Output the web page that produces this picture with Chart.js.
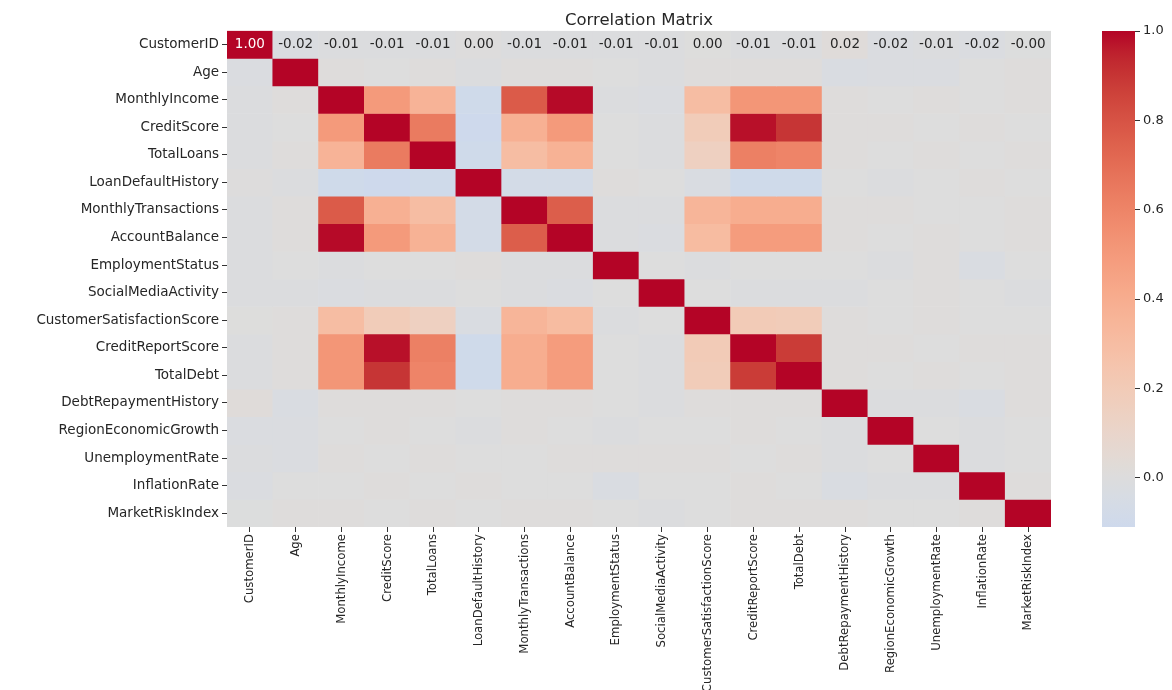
<!DOCTYPE html>
<html>
<head>
<meta charset="utf-8">
<title>Correlation Matrix</title>
<script src="https://cdn.jsdelivr.net/npm/chart.js@4.4.1/dist/chart.umd.min.js"></script>
<style>
  html, body { margin: 0; padding: 0; background: #ffffff; }
  #wrap { position: relative; width: 1172px; height: 690px; overflow: hidden; }
  #heat { position: absolute; left: 0; top: 0; }
  #bar { position: absolute; left: 1090px; top: 0; }
</style>
</head>
<body>
<div id="wrap">
  <canvas id="heat" width="1172" height="690"></canvas>
  <canvas id="bar" width="82" height="690"></canvas>
</div>
<script>
// Feature names (rows and columns of the matrix)
const variables = [
  'CustomerID', 'Age', 'MonthlyIncome', 'CreditScore', 'TotalLoans',
  'LoanDefaultHistory', 'MonthlyTransactions', 'AccountBalance',
  'EmploymentStatus', 'SocialMediaActivity', 'CustomerSatisfactionScore',
  'CreditReportScore', 'TotalDebt', 'DebtRepaymentHistory',
  'RegionEconomicGrowth', 'UnemploymentRate', 'InflationRate', 'MarketRiskIndex'
];

// Pairwise correlation coefficients, one row per feature
const corrRows = [
  [1.00, -0.02, -0.01, -0.01, -0.01, 0.003, -0.01, -0.01, -0.01, -0.01, 0.002, -0.01, -0.01, 0.02, -0.02, -0.01, -0.02, -0.004],
  [-0.02, 1.00, 0.01, 0.00, 0.01, -0.01, 0.01, 0.01, 0.00, -0.01, 0.01, 0.01, 0.01, -0.03, -0.02, -0.02, 0.00, 0.01],
  [-0.01, 0.01, 1.00, 0.50, 0.36, -0.10, 0.77, 0.99, -0.01, -0.02, 0.30, 0.52, 0.52, 0.01, 0.00, 0.01, 0.00, 0.01],
  [-0.01, 0.00, 0.50, 1.00, 0.64, -0.11, 0.38, 0.50, 0.00, -0.01, 0.19, 0.98, 0.90, 0.01, 0.01, 0.00, 0.01, 0.00],
  [-0.01, 0.01, 0.36, 0.64, 1.00, -0.10, 0.30, 0.37, 0.00, -0.01, 0.15, 0.62, 0.60, 0.01, 0.00, 0.01, 0.00, 0.01],
  [0.003, -0.01, -0.10, -0.11, -0.10, 1.00, -0.07, -0.07, 0.01, 0.00, -0.03, -0.10, -0.10, 0.00, -0.01, 0.00, 0.01, 0.00],
  [-0.01, 0.01, 0.77, 0.38, 0.30, -0.07, 1.00, 0.76, -0.01, -0.01, 0.35, 0.40, 0.40, 0.01, 0.01, 0.00, 0.00, 0.01],
  [-0.01, 0.01, 0.99, 0.50, 0.37, -0.07, 0.76, 1.00, -0.01, -0.02, 0.31, 0.49, 0.49, 0.01, 0.00, 0.01, 0.00, 0.01],
  [-0.01, 0.00, -0.01, 0.00, 0.00, 0.01, -0.01, -0.01, 1.00, 0.00, -0.01, 0.00, 0.00, 0.00, -0.01, 0.01, -0.03, 0.00],
  [-0.01, -0.01, -0.02, -0.01, -0.01, 0.00, -0.01, -0.02, 0.00, 1.00, 0.00, -0.01, -0.01, -0.01, 0.00, 0.01, 0.00, -0.01],
  [0.002, 0.01, 0.30, 0.19, 0.15, -0.03, 0.35, 0.31, -0.01, 0.00, 1.00, 0.20, 0.19, 0.01, 0.00, 0.01, 0.00, 0.00],
  [-0.01, 0.01, 0.52, 0.98, 0.62, -0.10, 0.40, 0.49, 0.00, -0.01, 0.20, 1.00, 0.88, 0.01, 0.01, 0.00, 0.01, 0.01],
  [-0.01, 0.01, 0.52, 0.90, 0.60, -0.10, 0.40, 0.49, 0.00, -0.01, 0.19, 0.88, 1.00, 0.01, 0.00, 0.01, 0.00, 0.01],
  [0.02, -0.03, 0.01, 0.01, 0.01, 0.00, 0.01, 0.01, 0.00, -0.01, 0.01, 0.01, 0.01, 1.00, -0.01, -0.01, -0.03, 0.01],
  [-0.02, -0.02, 0.00, 0.01, 0.00, -0.01, 0.01, 0.00, -0.01, 0.00, 0.00, 0.01, 0.00, -0.01, 1.00, 0.00, -0.01, 0.00],
  [-0.01, -0.02, 0.01, 0.00, 0.01, 0.00, 0.00, 0.01, 0.01, 0.01, 0.01, 0.00, 0.01, -0.01, 0.00, 1.00, -0.01, 0.00],
  [-0.02, 0.00, 0.00, 0.01, 0.00, 0.01, 0.00, 0.00, -0.03, 0.00, 0.00, 0.01, 0.00, -0.03, -0.01, -0.01, 1.00, 0.01],
  [-0.004, 0.01, 0.01, 0.00, 0.01, 0.00, 0.01, 0.01, 0.00, -0.01, 0.00, 0.01, 0.01, 0.01, 0.00, 0.00, 0.01, 1.00]
];

// Rows whose cells carry a printed value
const annotatedRows = [0];

// Colour bar tick values
const colorbarTicks = [0.0, 0.2, 0.4, 0.6, 0.8, 1.0];

// Diverging "coolwarm" colour map, sampled at 33 evenly spaced stops
const COOLWARM = [
  [0.2298057, 0.298717966, 0.753683153], [0.26623388, 0.353094838, 0.801466763],
  [0.30386891, 0.406535296, 0.84495867], [0.342804478, 0.458757618, 0.883725899],
  [0.38301334, 0.50941904, 0.917387822], [0.424369608, 0.558148092, 0.945619588],
  [0.46666708, 0.604562568, 0.968154911], [0.509635204, 0.648280772, 0.98478814],
  [0.552953156, 0.688929332, 0.995375608], [0.596262162, 0.726149107, 0.999836203],
  [0.639176211, 0.759599947, 0.998151185], [0.681291281, 0.788964712, 0.990363227],
  [0.722193294, 0.813952739, 0.976574709], [0.761464949, 0.834302879, 0.956945269],
  [0.798691636, 0.849786142, 0.931688648], [0.833466556, 0.860207984, 0.901068838],
  [0.865395197, 0.86541021, 0.865395561], [0.897787179, 0.848937047, 0.820880546],
  [0.924127593, 0.827384882, 0.774508472], [0.944468518, 0.800927443, 0.726736146],
  [0.958852946, 0.769767752, 0.678007945], [0.96732803, 0.734132809, 0.628751763],
  [0.969954137, 0.694266682, 0.579375448], [0.966811177, 0.650421156, 0.530263762],
  [0.958003065, 0.602842431, 0.481775914], [0.943660866, 0.551750968, 0.434243684],
  [0.923944917, 0.49730856, 0.387970225], [0.89904617, 0.439559467, 0.343229596],
  [0.869186849, 0.378313092, 0.300267182], [0.834620542, 0.312874446, 0.259301199],
  [0.795631745, 0.24128379, 0.220525627], [0.752534934, 0.157246067, 0.184115123],
  [0.705673158, 0.01555616, 0.150232812]
];

// Colour scale is centred on zero, so the map spans [-1, 1]
function coolwarmRGB(v) {
  let t = (v + 1) / 2;
  t = Math.max(0, Math.min(1, t));
  const pos = t * (COOLWARM.length - 1);
  const i = Math.min(Math.floor(pos), COOLWARM.length - 2);
  const f = pos - i;
  const a = COOLWARM[i], b = COOLWARM[i + 1];
  return [0, 1, 2].map(k => Math.round((a[k] + (b[k] - a[k]) * f) * 255));
}
function coolwarm(v) {
  const c = coolwarmRGB(v);
  return `rgb(${c[0]},${c[1]},${c[2]})`;
}

const FONT = "'DejaVu Sans', 'Liberation Sans', sans-serif";
const TEXT = '#262626';
const vmin = Math.min(...corrRows.flat());
const vmax = Math.max(...corrRows.flat());

// One floating-bar dataset per matrix row; each bar covers [row, row + 1]
const datasets = corrRows.map((row, r) => ({
  label: variables[r],
  data: row.map(() => [r, r + 1]),
  backgroundColor: row.map(coolwarm),
  borderWidth: 0,
  borderSkipped: false,
  grouped: false,
  barPercentage: 1,
  categoryPercentage: 1
}));

// Writes the value inside annotated cells
const cellText = {
  id: 'cellText',
  afterDatasetsDraw(chart) {
    const { ctx, scales: { x, y } } = chart;
    ctx.save();
    ctx.font = `13.5px ${FONT}`;
    ctx.textAlign = 'center';
    ctx.textBaseline = 'middle';
    annotatedRows.forEach(r => {
      corrRows[r].forEach((v, c) => {
        const [cr, cg, cb] = coolwarmRGB(v);
        const lum = (0.2126 * cr + 0.7152 * cg + 0.0722 * cb) / 255;
        ctx.fillStyle = lum < 0.408 ? '#ffffff' : TEXT;
        ctx.fillText(v.toFixed(2), x.getPixelForValue(c), y.getPixelForValue(r + 0.5));
      });
    });
    ctx.restore();
  }
};

new Chart(document.getElementById('heat'), {
  type: 'bar',
  data: { labels: variables, datasets },
  plugins: [cellText],
  options: {
    responsive: false,
    animation: false,
    events: [],
    layout: { padding: { left: 0, right: 121, top: 0, bottom: 0 } },
    plugins: {
      legend: { display: false },
      tooltip: { enabled: false },
      title: {
        display: true,
        text: 'Correlation Matrix',
        fullSize: false,
        color: TEXT,
        font: { family: FONT, size: 16.5, weight: 'normal' },
        padding: { top: 11, bottom: 0 }
      }
    },
    scales: {
      x: {
        type: 'category',
        offset: true,
        border: { display: false },
        grid: { display: true, offset: false, drawOnChartArea: false, drawTicks: true, tickLength: 5, tickColor: '#333333' },
        ticks: {
          autoSkip: false, minRotation: 90, maxRotation: 90, padding: 2,
          color: TEXT,
          font: { family: "'DejaVu Sans Condensed', 'Liberation Sans Narrow', 'DejaVu Sans', sans-serif", size: 13 }
        },
        afterFit(scale) { scale.height = 163; }
      },
      y: {
        type: 'linear',
        min: 0,
        max: variables.length,
        reverse: true,
        border: { display: false },
        grid: { display: true, drawOnChartArea: false, drawTicks: true, tickLength: 5, tickColor: '#333333' },
        afterBuildTicks(scale) {
          scale.ticks = variables.map((_, i) => ({ value: i + 0.5 }));
        },
        ticks: {
          padding: 3,
          color: TEXT,
          font: { family: FONT, size: 13.5 },
          callback: (value, index) => variables[index]
        },
        afterFit(scale) { scale.width = 227; }
      }
    }
  }
});

// Colour bar: one floating bar spanning the data range, filled with the colour map
function colorbarFill(context) {
  const chart = context.chart;
  if (!chart.chartArea) return coolwarm(0);
  const ys = chart.scales.y;
  const y0 = ys.getPixelForValue(vmin);
  const y1 = ys.getPixelForValue(vmax);
  const g = chart.ctx.createLinearGradient(0, y0, 0, y1);
  const steps = 48;
  for (let i = 0; i <= steps; i++) {
    const v = vmin + (vmax - vmin) * i / steps;
    g.addColorStop(i / steps, coolwarm(v));
  }
  return g;
}

new Chart(document.getElementById('bar'), {
  type: 'bar',
  data: {
    labels: [''],
    datasets: [{
      data: [[vmin, vmax]],
      backgroundColor: colorbarFill,
      borderWidth: 0,
      borderSkipped: false,
      barPercentage: 1,
      categoryPercentage: 1
    }]
  },
  options: {
    responsive: false,
    animation: false,
    events: [],
    layout: { padding: { left: 12, right: 0, top: 31, bottom: 163 } },
    plugins: { legend: { display: false }, tooltip: { enabled: false } },
    scales: {
      x: { display: false },
      y: {
        type: 'linear',
        position: 'right',
        min: vmin,
        max: vmax,
        border: { display: false },
        grid: { display: true, drawOnChartArea: false, drawTicks: true, tickLength: 5, tickColor: '#333333' },
        afterBuildTicks(scale) {
          scale.ticks = colorbarTicks.map(v => ({ value: v }));
        },
        ticks: {
          padding: 3,
          color: TEXT,
          font: { family: FONT, size: 13 },
          callback: v => Number(v).toFixed(1)
        },
        afterFit(scale) { scale.width = 37; }
      }
    }
  }
});
</script>
</body>
</html>
